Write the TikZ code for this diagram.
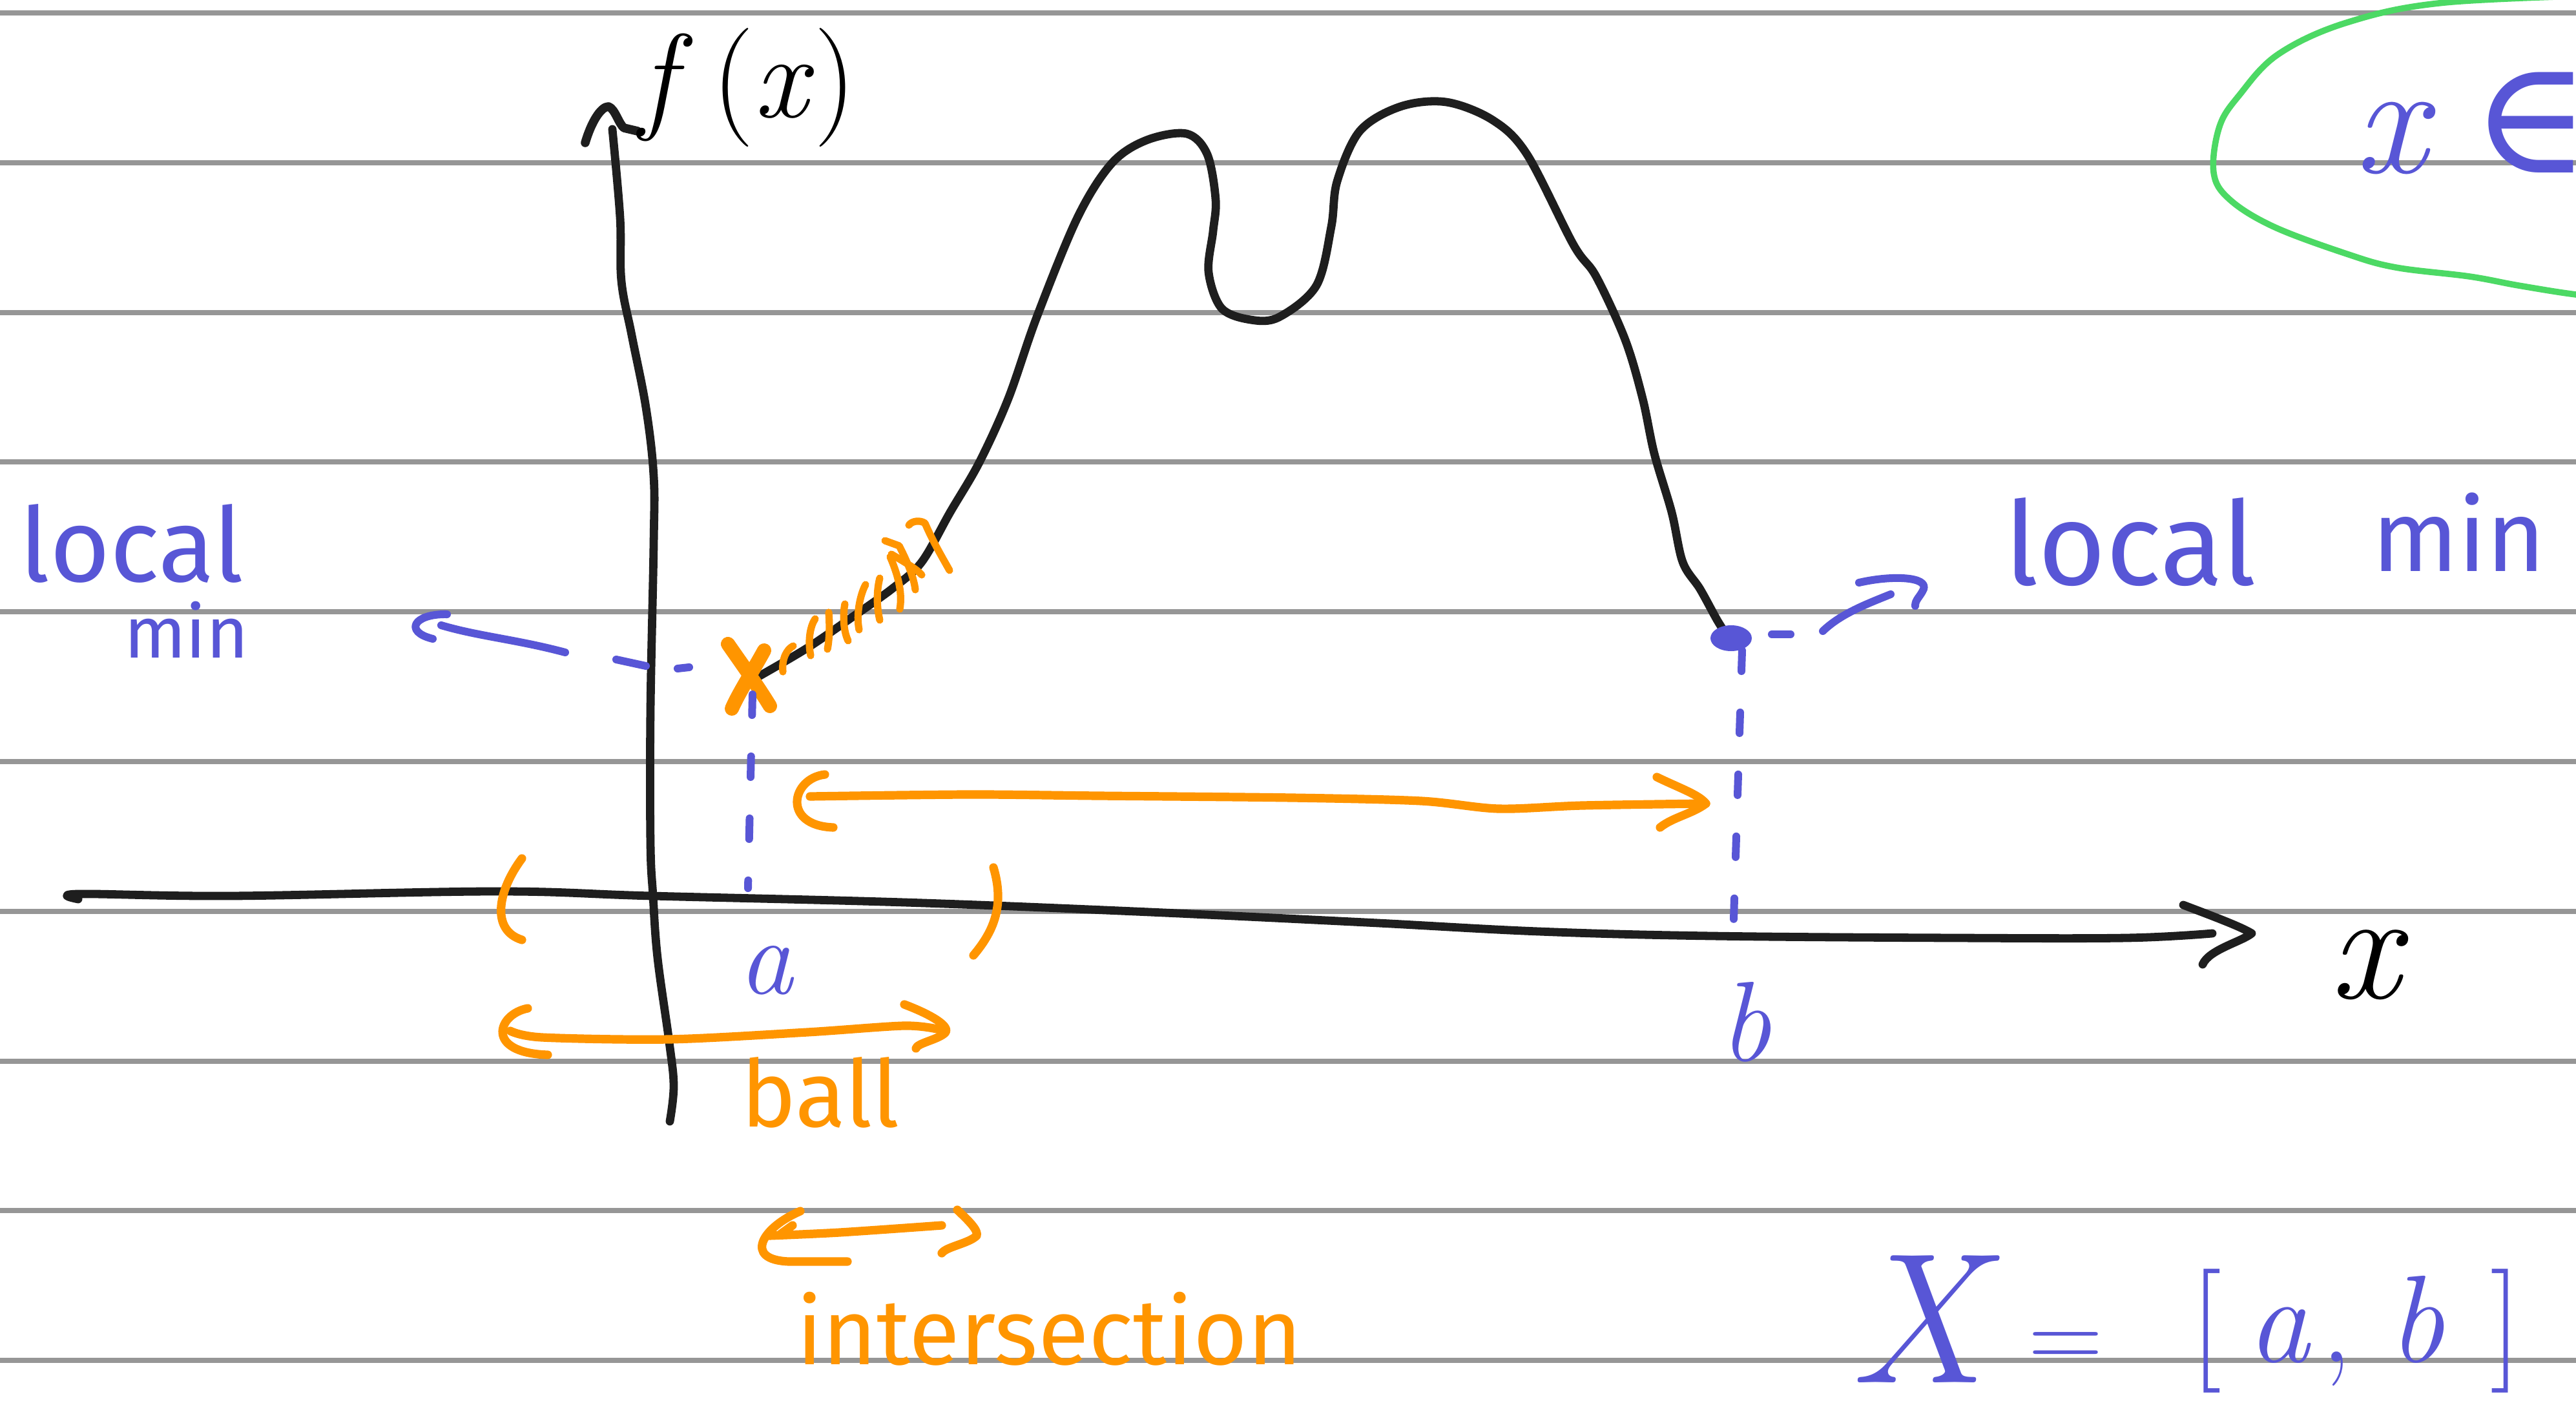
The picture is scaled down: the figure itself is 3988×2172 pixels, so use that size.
\documentclass[tikz,border=0pt]{standalone}
\usepackage{fontspec}
\setsansfont{Fira Sans}
\newfontfamily\symfont{DejaVu Serif}
\definecolor{pen}{RGB}{30,30,30}
\definecolor{ink}{RGB}{88,86,214}
\definecolor{orng}{RGB}{255,149,0}
\definecolor{grn}{RGB}{76,217,100}
\definecolor{rulecol}{RGB}{150,150,150}
\newcommand{\fs}[1]{\fontsize{#1}{#1}\selectfont}
\begin{document}
\begin{tikzpicture}[x=0.25pt,y=-0.25pt,line cap=round,line join=round,
  blackpen/.style={draw=pen,line width=3.2pt},
  bluepen/.style={draw=ink,line width=3pt},
  orangepen/.style={draw=orng,line width=3.3pt},
  greenpen/.style={draw=grn,line width=2.4pt},
  bluedash/.style={draw=ink,line width=3pt,dash pattern=on 8pt off 16pt},
  ruling/.style={draw=rulecol,line width=2pt},
  lbl/.style={inner sep=0pt,outer sep=0pt,anchor=base west}]
\useasboundingbox (0,0) rectangle (3988,2172);
\fill[white] (0,0) rectangle (3988,2172);
\clip (0,0) rectangle (3988,2172);
% ruled paper
\foreach \k in {0,...,9}{
  \draw[ruling] (0,{20+231.8*\k}) -- (3988,{20+231.8*\k});
}
% green blob
\draw[greenpen] plot[smooth,tension=0.6] coordinates {(4060,-8) (3785,4) (3633,35) (3527,84) (3467,147) (3436,196) (3427,267) (3452,309) (3520,351) (3633,393) (3709,414) (3823,428) (3899,442) (3988,456) (4060,462)};
% y axis
\draw[blackpen] plot[smooth,tension=0.6] coordinates {(1037,1736) (1043,1681) (1036,1613) (1018,1483) (1011,1387) (1007,1305) (1007,1100) (1012,842) (1012,737) (1000,631) (978,519) (962,435) (960,337) (948,200)};
\draw[blackpen,line width=3.4pt] (906,221) .. controls (915,190) and (930,165) .. (942,165) .. controls (952,168) and (958,192) .. (966,198) -- (987,203);
% x axis
\draw[blackpen] plot[smooth,tension=0.6] coordinates {(121,1392) (121,1384) (357,1387) (768,1380) (1009,1387) (1400,1397) (1757,1411) (2114,1428) (2382,1442) (2650,1449) (3027,1452) (3292,1452) (3425,1445)};
\draw[blackpen] (3380,1401) .. controls (3430,1420) and (3470,1435) .. (3486,1445) .. controls (3470,1458) and (3420,1470) .. (3410,1493);
% function curve
\coordinate (Xa) at (1160,1047);
\coordinate (Xb) at (2680,988);
\draw[blackpen] plot[smooth,tension=0.55] coordinates {(1175,1047) (1250,1003) (1317,957) (1383,910) (1427,870) (1471,793) (1516,716) (1561,617) (1605,491) (1668,337) (1721,253) (1775,217) (1837,207) (1869,239) (1882,309) (1878,358) (1871,421) (1891,477) (1936,495) (1980,491) (2038,442) (2061,351) (2070,281) (2105,203) (2168,165) (2239,158) (2311,186) (2364,239) (2436,379) (2471,428) (2516,526) (2543,617) (2561,702) (2588,793) (2605,870) (2632,912) (2659,961) (2677,989)};
% orange hatch marks on the curve
\draw[orangepen,line width=2.8pt] (1212,1040) .. controls (1210,1020) and (1218,1005) .. (1228,1000);
\draw[orangepen,line width=2.8pt] (1255,1015) .. controls (1250,990) and (1255,968) .. (1262,958);
\draw[orangepen,line width=2.8pt] (1281,1005) .. controls (1285,985) and (1284,960) .. (1283,948);
\draw[orangepen,line width=2.8pt] (1313,992) .. controls (1305,975) and (1305,950) .. (1308,935);
\draw[orangepen,line width=2.8pt] (1330,975) .. controls (1325,950) and (1332,920) .. (1340,905);
\draw[orangepen,line width=2.8pt] (1362,960) .. controls (1356,935) and (1358,910) .. (1362,895);
\draw[orangepen,line width=2.8pt] (1393,943) .. controls (1398,915) and (1388,885) .. (1378,862);
\draw[orangepen,line width=2.8pt] (1370,837) -- (1392,845) .. controls (1405,870) and (1415,895) .. (1417,913);
\draw[orangepen,line width=2.8pt] (1380,858) .. controls (1400,870) and (1418,880) .. (1427,890);
\draw[orangepen,line width=2.8pt] (1407,813) .. controls (1412,806) and (1425,805) .. (1432,810) .. controls (1445,840) and (1460,865) .. (1470,883);
% orange cross at a
\draw[orangepen,line width=5.5pt] (1127,997) .. controls (1150,1030) and (1175,1065) .. (1192,1093);
\draw[orangepen,line width=5.5pt] (1183,1007) .. controls (1165,1040) and (1145,1070) .. (1133,1097);
% blue dot at b
\fill[ink] (Xb) ellipse [x radius=32, y radius=20];
% blue dashed verticals
\draw[bluedash] (1165,1075) -- (1158,1375);
\draw[bluedash] (2697,1007) -- (2683,1455);
% left local min pointer
\draw[bluepen] (1049,1035) -- (1067,1033);
\draw[bluepen] (954,1021) -- (1000,1031);
\draw[bluepen] (875,1010) .. controls (800,990) and (740,985) .. (683,968);
\draw[bluepen] (692,951) .. controls (640,950) and (625,978) .. (670,989);
% right local min pointer
\draw[bluepen] (2743,982) -- (2772,982);
\draw[bluepen] (2822,977) .. controls (2850,950) and (2890,935) .. (2927,920);
\draw[bluepen] (2878,902) .. controls (2930,890) and (2985,893) .. (2978,912) .. controls (2972,925) and (2965,928) .. (2965,938);
% orange parentheses on the axis
\draw[orangepen] (808,1329) .. controls (770,1380) and (760,1440) .. (808,1455);
\draw[orangepen] (1538,1343) .. controls (1555,1400) and (1540,1440) .. (1507,1479);
% long orange arrow
\draw[orangepen] plot[smooth,tension=0.5] coordinates {(1254,1233) (1500,1230) (1700,1232) (2000,1235) (2200,1240) (2320,1252) (2450,1247) (2641,1244)};
\draw[orangepen] (2565,1203) .. controls (2600,1220) and (2630,1230) .. (2641,1244) .. controls (2620,1260) and (2590,1265) .. (2570,1281);
\draw[orangepen] (1277,1199) .. controls (1225,1205) and (1210,1278) .. (1290,1281);
% ball arrow
\draw[orangepen] plot[smooth,tension=0.5] coordinates {(790,1596) (839,1606) (1036,1609) (1250,1598) (1400,1588) (1455,1594)};
\draw[orangepen] (817,1561) .. controls (770,1570) and (750,1630) .. (848,1633);
\draw[orangepen] (1400,1555) .. controls (1440,1570) and (1475,1590) .. (1462,1600) .. controls (1450,1610) and (1420,1615) .. (1418,1623);
% intersection arrow
\draw[orangepen] plot[smooth,tension=0.5] coordinates {(1191,1913) (1300,1908) (1458,1897)};
\draw[orangepen] (1239,1875) .. controls (1180,1900) and (1150,1950) .. (1221,1953) -- (1312,1953);
\draw[orangepen] (1227,1897) -- (1209,1910);
\draw[orangepen] (1482,1873) .. controls (1500,1890) and (1515,1905) .. (1512,1913) .. controls (1500,1925) and (1465,1930) .. (1458,1940);
% labels
\node[lbl,font=\fs{46}] (fx) at (990,182) {\textit{f}\,(\textit{x})};
\node[lbl,font=\fs{60}\itshape] (xlab) at (3607,1545) {x};
\node[lbl,font=\fs{42}\itshape,text=ink] (alab) at (1143,1538) {a};
\node[lbl,font=\fs{44}\itshape,text=ink] (blab) at (2662,1642) {b};
\node[lbl,font=\fs{36}\sffamily,text=orng] (ball) at (1147,1744) {ball};
\node[lbl,font=\fs{36}\sffamily,text=orng] (inter) at (1233,2112) {intersection};
\node[lbl,font=\fs{40}\sffamily,text=ink] (locL) at (31,900) {local};
\node[lbl,font=\fs{28}\sffamily,text=ink] (minL) at (192,1018) {min};
\node[lbl,font=\fs{45}\sffamily,text=ink] (locR) at (3103,905) {local};
\node[lbl,font=\fs{39}\sffamily,text=ink] (minR) at (3672,884) {min};
\node[lbl,font=\fs{62},text=ink] (xin) at (3645,268) {\textit{x}\hspace{14pt}{\symfont ∈}};
\node[lbl,font=\fs{72}\itshape,text=ink] (Xset) at (2862,2140) {X};
\node[font=\fs{40},text=ink,inner sep=0pt] (eq) at (3198,2091) {=};
\node[lbl,font=\fs{48},text=ink] (ab) at (3391,2108) {[\hspace{10pt}\textit{a}\hspace{4pt},\hspace{14pt}\textit{b}\hspace{18pt}]};
\end{tikzpicture}
\end{document}
